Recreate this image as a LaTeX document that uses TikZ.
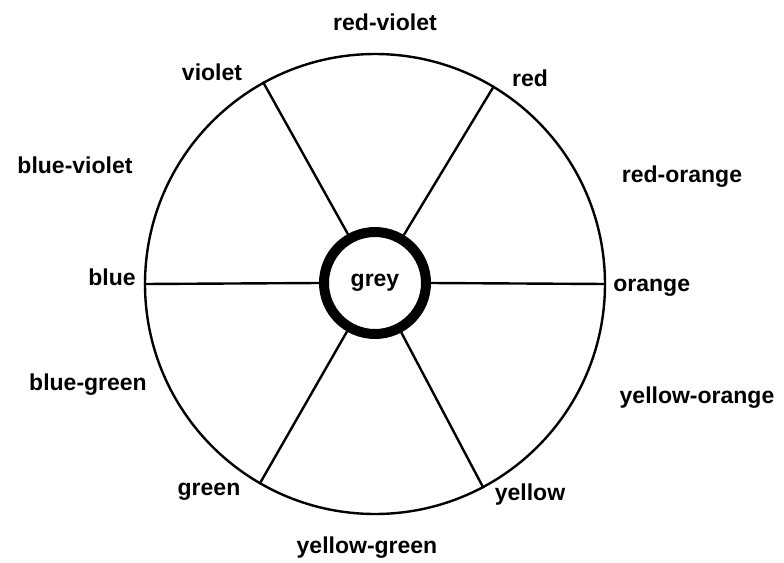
\documentclass[tikz,border=0pt]{standalone}
\usepackage{fontspec}
\setmainfont{Liberation Sans}
\usetikzlibrary{positioning}
\begin{document}
\begin{tikzpicture}[x=0.5pt,y=-0.5pt,
    every node/.style={font=\bfseries\fontsize{11.5}{14}\selectfont},
    ring/.style={draw, circle, inner sep=0pt}]
        \useasboundingbox (0,0) rectangle (784,563);
        %disegno ruota
        \node[ring, line width=1.2pt, minimum size=230pt] (wheel) at (375,284) {};
        %disegno centro
        \node[ring, line width=5pt, minimum size=51pt] (hub) at (375,283) {grey};
        %disegno raggi
        \foreach \a in {0,59,119,180,240,298}
            \draw[line width=1.2pt] (hub.\a) -- (wheel.\a);
        %disegno nomi colori
        \node (redviolet) at (385,22) {red-violet};
        \node (red) at (530,78) {red};
        \node (redorange) at (682,177) {red-orange};
        \node[anchor=west, inner sep=0pt] (orange) at (613,288) {orange};
        \node (yelloworange) at (697,398) {yellow-orange};
        \node (yellow) at (530,495) {yellow};
        \node (yellowgreen) at (367,548) {yellow-green};
        \node (green) at (209,492) {green};
        \node (bluegreen) at (88,385) {blue-green};
        \node (blue) at (112,277) {blue};
        \node (blueviolet) at (75,165) {blue-violet};
        \node (violet) at (212,72) {violet};
    \end{tikzpicture}
\end{document}
